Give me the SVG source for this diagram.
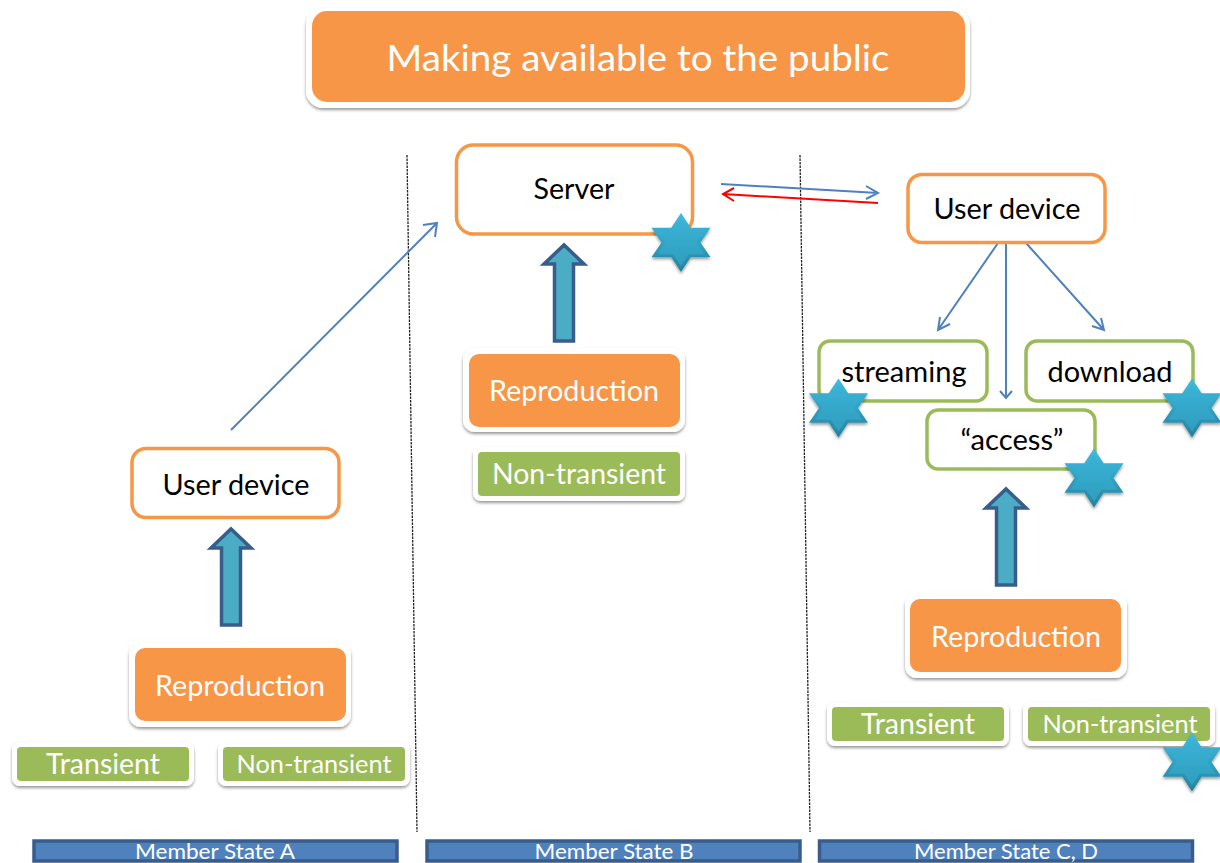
<svg xmlns="http://www.w3.org/2000/svg" width="1220" height="863" viewBox="0 0 1220 863">
<style>
text{font-family:"Lato","Open Sans","Liberation Sans",sans-serif;text-anchor:middle}
.w{fill:#fff}.k{fill:#000}
.card{fill:#fff;filter:url(#sh)}
.o{fill:#f79646}.g{fill:#9bbb59}
.ol{fill:#fff;stroke:#f79646;stroke-width:3.5}
.gl{fill:#fff;stroke:#9bbb59;stroke-width:3.5}
.blue{fill:none;stroke:#4f81bd;stroke-width:2}
.red{fill:none;stroke:#f00;stroke-width:2}
.dash{fill:none;stroke:#222;stroke-width:1.3;stroke-dasharray:2.5 1}
.bar{fill:#4f81bd;stroke:#385d8a;stroke-width:3.5}
.up{fill:#4bacc6;stroke:#385d8a;stroke-width:3.5}
</style>
<defs>
<filter id="sh" x="-10%" y="-15%" width="120%" height="130%"><feDropShadow dx="0" dy="2" stdDeviation="1.500" flood-color="#000" flood-opacity="0.4"/></filter>
<linearGradient id="sg" x1="0" y1="0" x2="0" y2="1"><stop offset="0" stop-color="#3fbde0"/><stop offset="0.55" stop-color="#2f9fc0"/><stop offset="1" stop-color="#26809c"/></linearGradient>
<linearGradient id="si" x1="0" y1="0" x2="0" y2="1"><stop offset="0" stop-color="#3ab3d6"/><stop offset="1" stop-color="#2f9dbd"/></linearGradient>
<g id="star" filter="url(#sh)">
<polygon points="0,-29.500 9.700,-14.700 29.500,-14.700 19.500,0 29.500,14.700 9.700,14.700 0,29.500 -9.700,14.700 -29.500,14.700 -19.500,0 -29.500,-14.700 -9.700,-14.700" fill="url(#sg)"/>
<polygon transform="scale(0.8)" points="0,-29.500 9.700,-14.700 29.500,-14.700 19.500,0 29.500,14.700 9.700,14.700 0,29.500 -9.700,14.700 -29.500,14.700 -19.500,0 -29.500,-14.700 -9.700,-14.700" fill="url(#si)"/>
</g>
<path id="uparrow" d="M-9.500,43V-34H-20L0,-53 20,-34H9.500V43Z"/>
</defs>

<g id="connectors">
<path class="dash" d="M407,155 417,832"/>
<path class="dash" d="M800,155 810,832"/>
<path class="blue" d="M231,430 437,223M423,225 437,223 435,237"/>
<path class="blue" d="M721,184 878,193M866,186 878,193 866,199"/>
<path class="red" d="M878,203 723,194M734,188 723,194 734,201"/>
<path class="blue" d="M998,243 938,330M940,317 938,330 950,324"/>
<path class="blue" d="M1006,243V398M1000,391 1006,398 1012,391"/>
<path class="blue" d="M1026,243 1104,330M1092,326 1104,330 1101,318"/>
<use href="#uparrow" class="up" x="231" y="582"/>
<use href="#uparrow" class="up" x="564" y="298"/>
<use href="#uparrow" class="up" x="1006" y="542"/>
</g>

<g id="title"><rect class="card" x="306" y="8" width="664" height="100" rx="17"/><rect class="o" x="312" y="11" width="653" height="91" rx="15"/><text class="w" x="638" y="71" font-size="37" textLength="503" lengthAdjust="spacingAndGlyphs">Making available to the public</text></g>

<g id="server"><rect class="ol" x="456.500" y="145" width="236" height="89" rx="17"/><text class="k" x="574" y="199" font-size="28" textLength="81" lengthAdjust="spacingAndGlyphs">Server</text></g>
<g id="user-c"><rect class="ol" x="908" y="174.500" width="197" height="68" rx="14"/><text class="k" x="1007" y="219" font-size="28" textLength="147" lengthAdjust="spacingAndGlyphs">User device</text></g>
<g id="user-a"><rect class="ol" x="132" y="448.500" width="207" height="69" rx="14"/><text class="k" x="236" y="495" font-size="28" textLength="147" lengthAdjust="spacingAndGlyphs">User device</text></g>

<g id="streaming"><rect class="gl" x="819" y="341" width="168" height="60" rx="11"/><text class="k" x="904" y="382" font-size="28" textLength="125" lengthAdjust="spacingAndGlyphs">streaming</text></g>
<g id="download"><rect class="gl" x="1026" y="341" width="167" height="60" rx="11"/><text class="k" x="1110" y="382" font-size="28" textLength="125" lengthAdjust="spacingAndGlyphs">download</text></g>
<g id="access"><rect class="gl" x="927" y="410" width="168" height="59" rx="11"/><text class="k" x="1012" y="450" font-size="28" textLength="103" lengthAdjust="spacingAndGlyphs">“access”</text></g>

<g id="repro-b"><rect class="card" x="463" y="348" width="222" height="84" rx="12"/><rect class="o" x="469" y="354" width="211" height="73" rx="10"/><text class="w" x="574" y="401" font-size="28" textLength="170" lengthAdjust="spacingAndGlyphs">Reproduction</text></g>
<g id="repro-a"><rect class="card" x="129" y="643" width="222" height="84" rx="12"/><rect class="o" x="135" y="648" width="211" height="73" rx="10"/><text class="w" x="240" y="696" font-size="28" textLength="170" lengthAdjust="spacingAndGlyphs">Reproduction</text></g>
<g id="repro-c"><rect class="card" x="905" y="594" width="222" height="84" rx="12"/><rect class="o" x="910" y="599" width="211" height="73" rx="10"/><text class="w" x="1016" y="647" font-size="28" textLength="170" lengthAdjust="spacingAndGlyphs">Reproduction</text></g>

<g id="nt-b"><rect class="card" x="473" y="447" width="212" height="54" rx="8"/><rect class="g" x="478" y="452" width="202" height="44" rx="4"/><text class="w" x="579" y="484" font-size="28" textLength="174" lengthAdjust="spacingAndGlyphs">Non-transient</text></g>
<g id="tr-a"><rect class="card" x="12" y="742" width="182" height="44" rx="8"/><rect class="g" x="17" y="747" width="172" height="34" rx="4"/><text class="w" x="103" y="774" font-size="28" textLength="114" lengthAdjust="spacingAndGlyphs">Transient</text></g>
<g id="nt-a"><rect class="card" x="218" y="742" width="192" height="44" rx="8"/><rect class="g" x="223" y="747" width="182" height="34" rx="4"/><text class="w" x="314" y="773" font-size="25" textLength="155" lengthAdjust="spacingAndGlyphs">Non-transient</text></g>
<g id="tr-c"><rect class="card" x="827" y="702" width="182" height="44" rx="8"/><rect class="g" x="832" y="707" width="172" height="34" rx="4"/><text class="w" x="918" y="734" font-size="28" textLength="114" lengthAdjust="spacingAndGlyphs">Transient</text></g>
<g id="nt-c"><rect class="card" x="1023" y="702" width="192" height="44" rx="8"/><rect class="g" x="1028" y="707" width="182" height="34" rx="4"/><text class="w" x="1120" y="733" font-size="25" textLength="155" lengthAdjust="spacingAndGlyphs">Non-transient</text></g>

<g id="state-a"><rect class="bar" x="34" y="841" width="363" height="20"/><text class="w" x="215" y="859" font-size="21" textLength="160" lengthAdjust="spacingAndGlyphs">Member State A</text></g>
<g id="state-b"><rect class="bar" x="427" y="841" width="373" height="20"/><text class="w" x="614" y="859" font-size="21" textLength="159" lengthAdjust="spacingAndGlyphs">Member State B</text></g>
<g id="state-c"><rect class="bar" x="819.500" y="841" width="373" height="20"/><text class="w" x="1006" y="859" font-size="21" textLength="184" lengthAdjust="spacingAndGlyphs">Member State C, D</text></g>

<g id="stars">
<use href="#star" x="681" y="242.500"/>
<use href="#star" x="838.500" y="408"/>
<use href="#star" x="1192" y="408"/>
<use href="#star" x="1094" y="478"/>
<use href="#star" x="1192" y="762"/>
</g>
</svg>
